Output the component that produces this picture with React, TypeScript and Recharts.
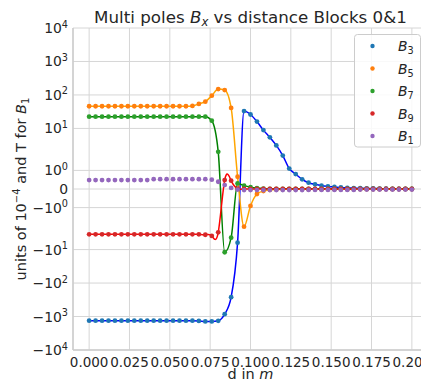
import React from 'react';
import { LineChart, Line, XAxis, YAxis, CartesianGrid } from 'recharts';

// ---- data ----
const xValues = [
  0, 0.004, 0.008, 0.012, 0.016, 0.02, 0.024, 0.028, 0.032, 0.036,
  0.04, 0.044, 0.048, 0.052, 0.056, 0.06, 0.064, 0.068, 0.072, 0.076,
  0.08, 0.084, 0.088, 0.092, 0.096, 0.1, 0.104, 0.108, 0.112, 0.116,
  0.12, 0.124, 0.128, 0.132, 0.136, 0.14, 0.144, 0.148, 0.152, 0.156,
  0.16, 0.164, 0.168, 0.172, 0.176, 0.18, 0.184, 0.188, 0.192, 0.196, 0.2,
];

const b3 = [
  -1330, -1330, -1330, -1330, -1330, -1330, -1330, -1330, -1330, -1330,
  -1330, -1330, -1330, -1330, -1330, -1330, -1330, -1350, -1400, -1400,
  -1340, -850, -265, -6.2, 33, 26, 16, 8.9, 5.4, 3.1,
  1.8, 1.1, 0.8, 0.52, 0.34, 0.25, 0.18, 0.14, 0.11, 0.08,
  0.06, 0.05, 0.04, 0.03, 0.03, 0.02, 0.02, 0.01, 0.01, 0.01, 0.01,
];

const b5 = [
  46, 46, 46, 46, 46, 46, 46, 46, 46, 46,
  46, 46, 46, 46, 46, 46, 47, 54, 63, 95,
  150, 140, 41, 0.66, -2.07, -0.91, -0.27, -0.11, -0.05, -0.03,
  -0.02, -0.02, -0.01, -0.01, -0.01, -0.01, -0.01, -0.01, -0.01, -0.01,
  -0.01, -0.01, -0.01, -0.01, -0.01, -0.01, -0.01, -0.01, -0.01, -0.01, -0.01,
];

const b7 = [
  22.5, 22.5, 22.5, 22.5, 22.5, 22.5, 22.5, 22.5, 22.5, 22.5,
  22.5, 22.5, 22.5, 22.5, 22.5, 22.5, 22.5, 22.5, 22.5, 17,
  2.0, -12, -4.4, 0.3, 0.18, 0.1, 0.05, 0.02, 0.01, 0.01,
  0.01, 0.01, 0.01, 0.01, 0.01, 0.01, 0.01, 0.01, 0.01, 0.01,
  0.01, 0.01, 0.01, 0.01, 0.01, 0.01, 0.01, 0.01, 0.01, 0.01, 0.01,
];

const b9 = [
  -3.5, -3.5, -3.5, -3.5, -3.5, -3.5, -3.5, -3.5, -3.5, -3.5,
  -3.5, -3.5, -3.5, -3.5, -3.5, -3.5, -3.5, -3.5, -3.6, -3.9,
  -3.05, 0.48, 0.45, 0.02, 0, 0, 0, 0, 0, 0,
  0, 0, 0, 0, 0, 0, 0, 0, 0, 0,
  0, 0, 0, 0, 0, 0, 0, 0, 0, 0, 0,
];

const b1 = [
  0.48, 0.48, 0.48, 0.48, 0.48, 0.48, 0.48, 0.48, 0.48, 0.48,
  0.53, 0.53, 0.53, 0.53, 0.53, 0.53, 0.53, 0.53, 0.53, 0.5,
  0.39, 0.21, 0.06, -0.03, -0.06, -0.06, -0.06, -0.06, -0.06, -0.06,
  -0.06, -0.06, -0.06, -0.06, -0.05, -0.05, -0.05, -0.05, -0.05, -0.05,
  -0.05, -0.05, -0.03, -0.03, -0.03, -0.03, -0.03, -0.03, -0.03, -0.03, -0.03,
];

const seriesKeys = ['b3', 'b5', 'b7', 'b9', 'b1'];
const seriesValues = [b3, b5, b7, b9, b1];
const seriesSubscripts = ['3', '5', '7', '9', '1'];
const dotColors = ['#1f77b4', '#ff7f0e', '#2ca02c', '#d62728', '#9467bd'];
const lineColors = ['#0000ff', '#ffa500', '#008000', '#ff0000', 'none'];
const curveTypes: any[] = ['monotone', 'monotone', 'monotone', 'natural', 'monotone'];

const xTicks = [0, 0.025, 0.05, 0.075, 0.1, 0.125, 0.15, 0.175, 0.2];
const yTickValues = [-10000, -1000, -100, -10, -1, 0, 1, 10, 100, 1000, 10000];

// ---- symlog transform (linthresh 2, linscale 1, base 10) ----
const LINTHRESH = 2;
const LINSCALE_ADJ = 1 / (1 - 1 / 10);
const symlog = (v: number) => {
  const a = Math.abs(v);
  if (a <= LINTHRESH) return v * LINSCALE_ADJ;
  return Math.sign(v) * LINTHRESH * (LINSCALE_ADJ + Math.log10(a / LINTHRESH));
};

const data = xValues.map((x, i) => {
  const row: any = { x };
  seriesKeys.forEach((k, j) => {
    row[k] = symlog(seriesValues[j][i]);
  });
  return row;
});

const yTicks = yTickValues.map(symlog);
const yDomain = [symlog(-10000), symlog(10000)];

const FONT = 'DejaVu Sans';
const TEXT = '#262626';

const YTick = (props: any) => {
  const { x, y, payload } = props;
  const raw = yTickValues.find((v) => Math.abs(symlog(v) - payload.value) < 1e-6);
  if (raw === undefined) return null;
  if (raw === 0) {
    return (
      <text x={x - 5} y={y + 5} textAnchor="end" fontSize={13.9} fill={TEXT} fontFamily={FONT}>
        0
      </text>
    );
  }
  const exp = Math.round(Math.log10(Math.abs(raw)));
  return (
    <text x={x - 5} y={y + 5} textAnchor="end" fontSize={13.9} fill={TEXT} fontFamily={FONT}>
      {raw < 0 ? '\u2212' : ''}10
      <tspan dy={-5.5} fontSize={9.7}>{exp}</tspan>
    </text>
  );
};

const XTick = (props: any) => {
  const { x, y, payload } = props;
  return (
    <text x={x} y={y + 16.5} textAnchor="middle" fontSize={13.5} fill={TEXT} fontFamily={FONT}>
      {Number(payload.value).toFixed(3)}
    </text>
  );
};

export default function App() {
  return (
    <div
      style={{
        position: 'fixed',
        left: 0,
        top: 0,
        width: 421,
        height: 381,
        overflow: 'hidden',
        background: '#fff',
        fontFamily: FONT,
      }}
    >
      <LineChart
        width={440}
        height={381}
        data={data}
        margin={{ top: 28, right: 12, bottom: 0, left: 0 }}
      >
        <CartesianGrid stroke="#d6d6d6" strokeWidth={1} />
        <XAxis
          dataKey="x"
          type="number"
          domain={[-0.01, 0.21]}
          ticks={xTicks}
          interval={0}
          height={31}
          tickLine={false}
          tickSize={0}
          tickMargin={0}
          axisLine={{ stroke: '#cccccc', strokeWidth: 1.5 }}
          tick={<XTick />}
          allowDataOverflow
        />
        <YAxis
          type="number"
          domain={yDomain}
          ticks={yTicks}
          interval={0}
          width={73}
          tickLine={false}
          tickSize={0}
          tickMargin={0}
          axisLine={{ stroke: '#cccccc', strokeWidth: 1.5 }}
          tick={<YTick />}
          allowDataOverflow
        />
        {seriesKeys.map((k, j) => (
          <Line
            key={k}
            dataKey={k}
            type={curveTypes[j]}
            stroke={lineColors[j]}
            strokeWidth={1.5}
            dot={{ r: 2.4, fill: dotColors[j], stroke: dotColors[j], strokeWidth: 0 }}
            activeDot={false}
            isAnimationActive={false}
          />
        ))}
      </LineChart>
      <svg
        width={421}
        height={381}
        style={{ position: 'absolute', left: 0, top: 0, pointerEvents: 'none' }}
        fontFamily={FONT}
      >
        <text x={250.5} y={22.7} textAnchor="middle" fontSize={16.7} fill={TEXT}>
          Multi poles <tspan fontStyle="italic">B</tspan>
          <tspan fontStyle="italic" fontSize={11.7} dy={3.5}>x</tspan>
          <tspan dy={-3.5}> vs distance Blocks 0&amp;1</tspan>
        </text>
        <text x={250.5} y={379} textAnchor="middle" fontSize={14.5} fill={TEXT}>
          d in <tspan fontStyle="italic">m</tspan>
        </text>
        <text transform="translate(26,189) rotate(-90)" x={0} y={0} textAnchor="middle" fontSize={14.5} fill={TEXT}>
          units of 10<tspan dy={-6} fontSize={10}>{'\u2212'}4</tspan>
          <tspan dy={6}> and T for </tspan>
          <tspan fontStyle="italic">B</tspan>
          <tspan dy={3} fontSize={10}>1</tspan>
        </text>
        <rect x={354.5} y={34.5} width={66} height={112.5} rx={3} fill="#ffffff" fillOpacity={0.85} stroke="#cccccc" strokeWidth={1} />
        {seriesKeys.map((k, j) => {
          const cy = 46 + j * 22.5;
          return (
            <g key={k}>
              <circle cx={372.5} cy={cy} r={2.2} fill={dotColors[j]} />
              <text x={398} y={cy + 5} fontSize={13.9} fill={TEXT}>
                <tspan fontStyle="italic">B</tspan>
                <tspan dy={3} fontSize={9.7}>{seriesSubscripts[j]}</tspan>
              </text>
            </g>
          );
        })}
      </svg>
    </div>
  );
}
